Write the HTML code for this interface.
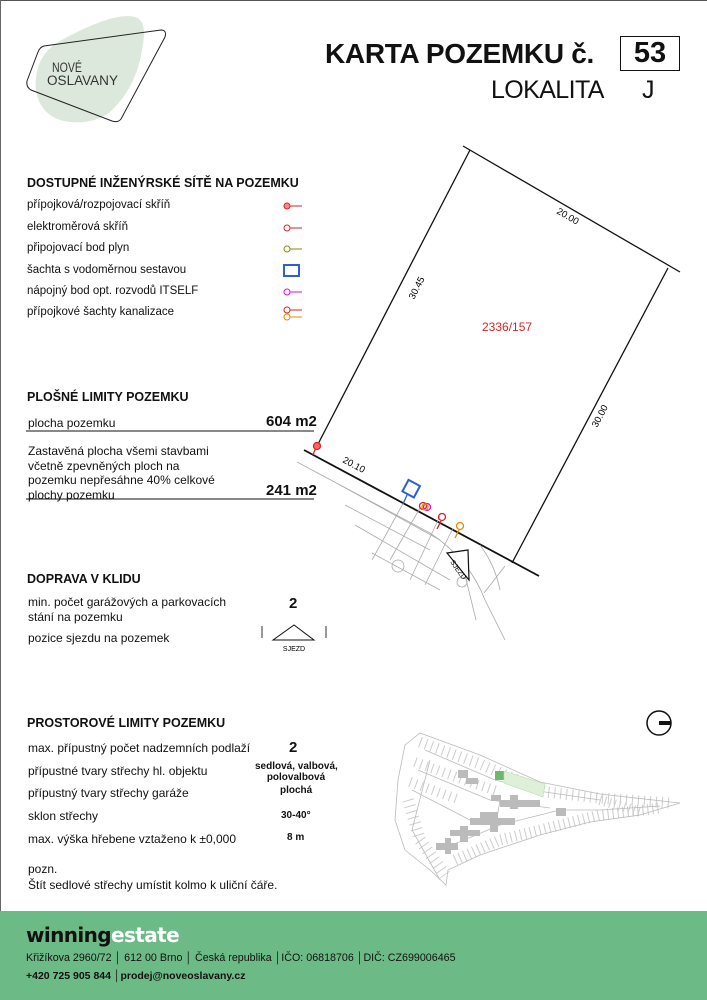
<!DOCTYPE html>
<html><head><meta charset="utf-8"><style>
body{margin:0;width:707px;height:1000px;position:relative;overflow:hidden;background:#fff;font-family:"Liberation Sans",Arial,sans-serif;color:#111}
.a{position:absolute;white-space:nowrap}
.h{font-weight:bold;font-size:12.5px}
.t{font-size:11.5px}
.l{font-size:12px}
.b{font-weight:bold}
</style></head><body>
<div style="position:absolute;left:0;top:0;width:707px;height:1px;background:#555"></div>
<div style="position:absolute;left:0;top:0;width:1px;height:911px;background:#666"></div>
<svg class="a" style="left:0;top:0" width="707" height="911">
<path d="M135,17 C146,20 145,35 142,50 C138,75 128,95 110,112 C95,124 70,125 55,118 C40,110 34,95 36,78 C38,60 46,50 58,42 C80,30 115,12 135,17Z" fill="#dde8dc"/>
<path d="M44,46 L161,30 Q167,30 165,37 L121,119 Q118,123 112,121 L31,90 Q26,87 27,81 L38,52 Q40,47 44,46Z" fill="none" stroke="#222" stroke-width="1"/>
<text x="52" y="72" font-size="13.5" fill="#333" font-family="Liberation Sans" textLength="30" lengthAdjust="spacingAndGlyphs">NOVÉ</text>
<text x="47" y="85" font-size="13.5" fill="#333" font-family="Liberation Sans" textLength="71" lengthAdjust="spacingAndGlyphs">OSLAVANY</text>
<!-- plot -->
<g stroke="#111" stroke-width="1.3" fill="none">
<line x1="463" y1="146" x2="680" y2="272"/>
<line x1="470" y1="150" x2="316" y2="448"/>
<line x1="668" y1="268" x2="512" y2="563"/>
<line x1="304" y1="450" x2="539" y2="576" stroke-width="1.8"/>
</g>
<text font-size="9.5" transform="translate(556,213) rotate(30)" font-family="Liberation Sans">20.00</text>
<text font-size="9.5" transform="translate(414,300) rotate(-63)" font-family="Liberation Sans">30.45</text>
<text font-size="9.5" transform="translate(597,428) rotate(-62)" font-family="Liberation Sans">30.00</text>
<text font-size="9.5" transform="translate(342,462) rotate(28)" font-family="Liberation Sans">20.10</text>
<text x="482" y="331" font-size="12" fill="#d22" font-family="Liberation Sans">2336/157</text>
<!-- road gray -->
<g stroke="#aaa" stroke-width="0.8" fill="none">
<path d="M297,462 L430,533 Q470,560 485,600 L505,640"/>
<path d="M480,545 Q495,565 500,590"/>
<line x1="340" y1="485" x2="440" y2="540"/>
<line x1="345" y1="505" x2="430" y2="550"/>
<line x1="355" y1="525" x2="450" y2="580"/>
<line x1="372" y1="553" x2="440" y2="590"/>
<line x1="405" y1="500" x2="372" y2="560"/>
<line x1="420" y1="508" x2="390" y2="560"/>
<line x1="440" y1="516" x2="410" y2="580"/>
<line x1="453" y1="528" x2="425" y2="585"/>
<line x1="465" y1="575" x2="476" y2="620"/>
<line x1="484" y1="593" x2="505" y2="566"/>
<circle cx="398" cy="566" r="6"/><circle cx="462" cy="582" r="5"/>
</g>
<path d="M447,553 L468,550 L469,580Z" fill="#fff" stroke="#111" stroke-width="1.2"/>
<text font-size="7" transform="translate(450,562) rotate(55)" font-family="Liberation Sans">SJEZD</text>
<!-- utilities on plot -->
<g fill="none" stroke-width="1.3">
<line x1="316" y1="447" x2="313" y2="455" stroke="#d22"/><circle cx="317" cy="446" r="3.5" stroke="#d22" fill="#f66"/>
<rect x="405" y="482" width="13" height="13" transform="rotate(28 411 488)" stroke="#2a5fd6" stroke-width="2"/>
<line x1="407" y1="495" x2="403" y2="504" stroke="#2a5fd6"/>
<circle cx="423" cy="506" r="3.5" stroke="#d22"/><circle cx="427" cy="507" r="3.5" stroke="#e0e"/><circle cx="425" cy="507" r="3" stroke="#e80"/>
<circle cx="442" cy="517" r="3.5" stroke="#d22"/><line x1="441" y1="521" x2="437" y2="529" stroke="#d22"/>
<circle cx="460" cy="526" r="3.5" stroke="#e80"/><line x1="459" y1="530" x2="455" y2="538" stroke="#e80"/>
</g>
<!-- legend icons -->
<g fill="none" stroke-width="1">
<circle cx="287" cy="206" r="3" stroke="#d22" fill="#f88"/><line x1="290" y1="206" x2="302" y2="206" stroke="#d22"/>
<circle cx="287" cy="228" r="3" stroke="#d22"/><line x1="290" y1="228" x2="302" y2="228" stroke="#d22"/>
<circle cx="287" cy="249" r="3" stroke="#880"/><line x1="290" y1="249" x2="302" y2="249" stroke="#880"/>
<rect x="284" y="265" width="15" height="11" stroke="#2a5fd6" stroke-width="2"/>
<circle cx="287" cy="292" r="3" stroke="#e0e"/><line x1="290" y1="292" x2="302" y2="292" stroke="#e0e"/>
<circle cx="287" cy="310" r="3" stroke="#d22"/><line x1="290" y1="310" x2="302" y2="310" stroke="#d22"/>
<circle cx="287" cy="317" r="3" stroke="#e80"/><line x1="290" y1="317" x2="302" y2="317" stroke="#e80"/>
</g>
<!-- sjezd icon -->
<line x1="262" y1="626" x2="262" y2="638" stroke="#333"/><line x1="326" y1="626" x2="326" y2="638" stroke="#333"/>
<path d="M273,640 L294,625 L314,640Z" fill="none" stroke="#111"/>
<text x="294" y="651" font-size="7" text-anchor="middle" font-family="Liberation Sans">SJEZD</text>
<!-- underlines -->
<line x1="26" y1="431" x2="314" y2="431" stroke="#111"/>
<line x1="26" y1="499" x2="314" y2="499" stroke="#111"/>
<!-- compass -->
<circle cx="659" cy="723" r="12" fill="none" stroke="#111" stroke-width="1.5"/>
<rect x="659" y="721" width="12" height="4" fill="#111"/>
<!-- minimap -->
<g fill="none" stroke="#ccc">
<path d="M420,742 L480,764 L545,792 L600,798 L670,803" stroke-width="11" stroke-dasharray="1 5"/>
<path d="M415,762 L470,782 L500,792" stroke-width="10" stroke-dasharray="1 5"/>
<path d="M410,782 L460,800" stroke-width="10" stroke-dasharray="1 5"/>
<path d="M408,800 L420,840 L445,875" stroke-width="12" stroke-dasharray="1 5"/>
<path d="M455,860 L500,840 L560,825 L600,815 L660,808" stroke-width="11" stroke-dasharray="1 4"/>
<path d="M600,800 L640,812" stroke-width="10" stroke-dasharray="1 4"/>
</g>
<g stroke="#bbb" stroke-width="0.8" fill="none">
<path d="M405,745 L420,733 L480,755 L540,782 L600,794 L680,803 L640,815 L590,822 L540,835 L480,855 L448,870 L446,885 L430,870 L405,850 L395,820 L398,780 Z"/>
<path d="M425,750 L495,780 L545,792 L600,800"/>
<path d="M418,770 L490,800 L550,808"/>
<path d="M412,790 L470,820"/>
<path d="M440,850 L500,825 L560,810 L600,810 L660,806"/>
<path d="M430,760 L412,830 L440,880"/>
<path d="M500,800 L495,830"/>
</g>
<g fill="#bbb">
<rect x="458" y="770" width="10" height="8"/><rect x="466" y="778" width="12" height="6"/><rect x="491" y="795" width="10" height="6"/><rect x="500" y="800" width="40" height="7"/><rect x="510" y="795" width="8" height="14"/><rect x="480" y="812" width="10" height="6"/><rect x="470" y="818" width="45" height="7"/><rect x="490" y="812" width="8" height="20"/><rect x="450" y="830" width="30" height="6"/><rect x="460" y="826" width="8" height="16"/><rect x="436" y="843" width="22" height="7"/><rect x="445" y="838" width="6" height="16"/><rect x="556" y="808" width="10" height="8"/>
</g>
<rect x="495" y="771" width="9" height="9" fill="#6bb96b"/>
<path d="M504,771 L545,784 L543,797 L504,783Z" fill="#dff0d8" stroke="#b9deb0" stroke-width="0.6"/>
</svg>

<div class="a" style="left:325px;top:38px;font-size:28px;font-weight:bold;letter-spacing:-0.3px">KARTA POZEMKU č.</div>
<div class="a" style="left:620px;top:36px;width:58px;height:33px;border:1.5px solid #111;font-size:29px;font-weight:bold;text-align:center;line-height:33px">53</div>
<div class="a" style="left:491px;top:76px;font-size:25px;letter-spacing:-0.6px">LOKALITA</div>
<div class="a" style="left:642px;top:76px;font-size:25px">J</div>

<div class="a h" style="left:27px;top:176px">DOSTUPNÉ INŽENÝRSKÉ SÍTĚ NA POZEMKU</div>
<div class="a t" style="left:27px;top:199px">přípojková/rozpojovací skříň</div>
<div class="a t" style="left:27px;top:221px">elektroměrová skříň</div>
<div class="a t" style="left:27px;top:242px">připojovací bod plyn</div>
<div class="a t" style="left:27px;top:264px">šachta s vodoměrnou sestavou</div>
<div class="a t" style="left:27px;top:285px">nápojný bod opt. rozvodů ITSELF</div>
<div class="a t" style="left:27px;top:306px">přípojkové šachty kanalizace</div>

<div class="a h" style="left:27px;top:390px">PLOŠNÉ LIMITY POZEMKU</div>
<div class="a l" style="left:28px;top:416px">plocha pozemku</div>
<div class="a b" style="left:266px;top:413px;font-size:15px">604 m2</div>
<div class="a l" style="left:28px;top:444px;line-height:14.5px">Zastavěná plocha všemi stavbami<br>včetně zpevněných ploch na<br>pozemku nepřesáhne 40% celkové<br>plochy pozemku</div>
<div class="a b" style="left:266px;top:482px;font-size:15px">241 m2</div>

<div class="a h" style="left:27px;top:572px">DOPRAVA V KLIDU</div>
<div class="a l" style="left:28px;top:595px;line-height:14.5px">min. počet garážových a parkovacích<br>stání na pozemku</div>
<div class="a b" style="left:289px;top:595px;font-size:15px">2</div>
<div class="a l" style="left:28px;top:631px">pozice sjezdu na pozemek</div>

<div class="a h" style="left:27px;top:716px">PROSTOROVÉ LIMITY POZEMKU</div>
<div class="a l" style="left:28px;top:741px">max. přípustný počet nadzemních podlaží</div>
<div class="a b" style="left:289px;top:739px;font-size:15px">2</div>
<div class="a l" style="left:28px;top:764px">přípustné tvary střechy hl. objektu</div>
<div class="a b" style="left:255px;top:761px;font-size:10px;line-height:11px;text-align:center;width:82px">sedlová, valbová,<br>polovalbová</div>
<div class="a l" style="left:28px;top:786px">přípustný tvary střechy garáže</div>
<div class="a b" style="left:280px;top:785px;font-size:10px">plochá</div>
<div class="a l" style="left:28px;top:809px">sklon střechy</div>
<div class="a b" style="left:281px;top:810px;font-size:10px">30-40°</div>
<div class="a l" style="left:28px;top:832px">max. výška hřebene vztaženo k ±0,000</div>
<div class="a b" style="left:287px;top:832px;font-size:10px">8 m</div>
<div class="a l" style="left:28px;top:862px">pozn.</div>
<div class="a l" style="left:28px;top:878px">Štít sedlové střechy umístit kolmo k uliční čáře.</div>

<div style="position:absolute;left:0;top:911px;width:707px;height:89px;background:#6cbb86"></div>
<div class="a" style="left:26px;top:923px;font-size:20px;font-weight:bold;color:#111;font-family:'DejaVu Sans',sans-serif;letter-spacing:-0.6px">winning<span style="color:#fff">estate</span></div>
<div class="a" style="left:26px;top:952px;font-size:10.7px;color:#111">Křižíkova 2960/72 │ 612 00 Brno │ Česká republika │IČO: 06818706 │DIČ: CZ699006465</div>
<div class="a b" style="left:26px;top:970px;font-size:10.5px;color:#111">+420 725 905 844 │prodej@noveoslavany.cz</div>
</body></html>
